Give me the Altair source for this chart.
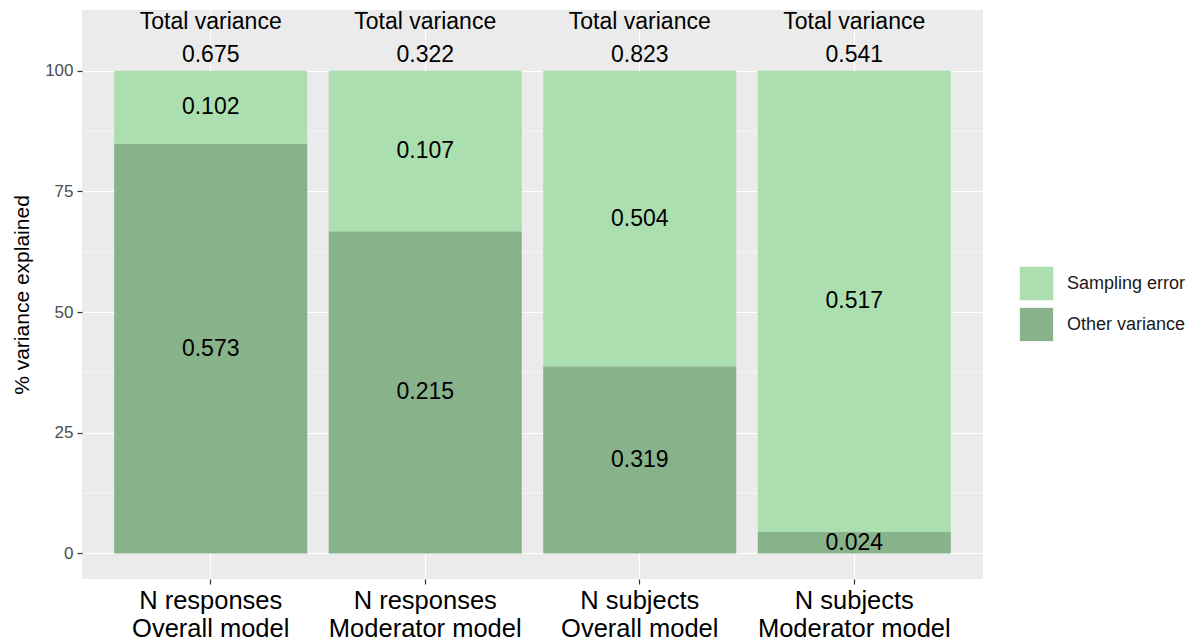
import altair as alt
import pandas as pd

categories = [
    "N responses\nOverall model",
    "N responses\nModerator model",
    "N subjects\nOverall model",
    "N subjects\nModerator model",
]
other_variance = [0.573, 0.215, 0.319, 0.024]
sampling_error = [0.102, 0.107, 0.504, 0.517]
total_variance = [0.675, 0.322, 0.823, 0.541]
components = ["Sampling error", "Other variance"]
colors = ["#ACDFAF", "#87B28A"]
major_ticks = [0, 25, 50, 75, 100]
minor_ticks = [12.5, 37.5, 62.5, 87.5]

rows = []
for c, o, s, t in zip(categories, other_variance, sampling_error, total_variance):
    o_pct = o / t * 100
    rows.append(dict(cat=c, comp="Other variance", lo=0.0, hi=o_pct,
                     mid=o_pct / 2, label=f"{o:.3f}", ord=0))
    rows.append(dict(cat=c, comp="Sampling error", lo=o_pct, hi=100.0,
                     mid=(o_pct + 100) / 2, label=f"{s:.3f}", ord=1))
df = pd.DataFrame(rows)
tot = pd.DataFrame({"cat": categories, "total": [f"{t:.3f}" for t in total_variance]})
minor = pd.DataFrame({"v": minor_ticks})

FONT = "Liberation Sans"

yscale = alt.Scale(domain=[-5.3, 112.6], nice=False, zero=False)
xscale = alt.Scale(domain=categories, paddingInner=0.1, paddingOuter=0.15)

xenc = alt.X(
    "cat:N", scale=xscale, sort=categories, title=None,
    axis=alt.Axis(
        labelExpr="split(datum.label, '\\n')",
        labelFontSize=25.5, labelColor="#000000", labelFont=FONT,
        labelLineHeight=28, labelAngle=0, labelPadding=4, labelLimit=400,
        tickColor="#333333", tickSize=5, tickWidth=1.2,
        domain=False, grid=True, gridColor="#FFFFFF", gridWidth=1.2,
        bandPosition=0.5, labelBaseline="top",
    ),
)

minor_layer = alt.Chart(minor).mark_rule(color="#FFFFFF", strokeWidth=0.6).encode(
    y=alt.Y("v:Q", scale=yscale)
)

bars = alt.Chart(df).mark_bar().encode(
    x=xenc,
    y=alt.Y(
        "lo:Q", scale=yscale, title="% variance explained",
        axis=alt.Axis(
            values=major_ticks, labelFontSize=17, labelColor="#4D4D4D",
            labelFont=FONT, tickColor="#333333", tickSize=5, tickWidth=1.2,
            labelPadding=4, domain=False, grid=True, gridColor="#FFFFFF",
            gridWidth=1.2, titleFontSize=21, titleFont=FONT,
            titleFontWeight="normal", titleColor="#000000", titlePadding=12,
        ),
    ),
    y2="hi:Q",
    color=alt.Color(
        "comp:N",
        scale=alt.Scale(domain=components, range=colors),
        legend=alt.Legend(
            title=None, orient="none", legendX=937, legendY=256,
            symbolType="square", symbolSize=1156, symbolOpacity=1,
            symbolStrokeColor="#F2F2F2", symbolStrokeWidth=1,
            labelFontSize=18, labelFont=FONT, labelColor="#1A1A1A",
            labelOffset=13, rowPadding=2, padding=0, labelLimit=300,
        ),
    ),
    order="ord:Q",
)

seg_text = alt.Chart(df).mark_text(fontSize=23, font=FONT, color="#000000",
                                   baseline="middle").encode(
    x=alt.X("cat:N", scale=xscale, sort=categories),
    y=alt.Y("mid:Q", scale=yscale),
    text="label:N",
)

tv_title = alt.Chart(tot).mark_text(fontSize=23, font=FONT, color="#000000",
                                    baseline="middle").encode(
    x=alt.X("cat:N", scale=xscale, sort=categories),
    y=alt.datum(110.2),
    text=alt.value("Total variance"),
)

tv_value = alt.Chart(tot).mark_text(fontSize=23, font=FONT, color="#000000",
                                    baseline="middle").encode(
    x=alt.X("cat:N", scale=xscale, sort=categories),
    y=alt.datum(103.2),
    text="total:N",
)

chart = alt.layer(minor_layer, bars, seg_text, tv_title, tv_value).properties(
    width=901, height=569,
    autosize=alt.AutoSizeParams(type="none"),
    padding={"left": 74, "top": 2, "right": 206, "bottom": 60},
).configure(background="#FFFFFF").configure_view(fill="#EBEBEB", stroke=None)

chart.save("out.html", embed_options={"renderer": "svg", "actions": False})
